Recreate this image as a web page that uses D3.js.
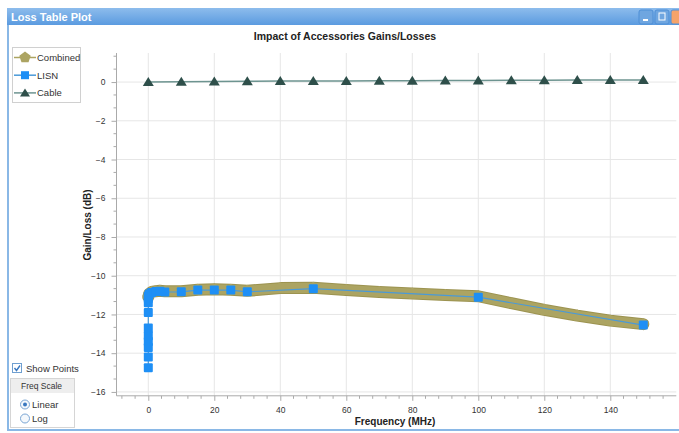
<!DOCTYPE html>
<html lang="en">
  <head>
    <meta charset="UTF-8" />
    <title>Loss Table Plot</title>
    <style>
      body { margin: 0; background: #fff; }
      svg { display: block; font-family: "Liberation Sans", Arial, sans-serif; }
    </style>
  </head>
  <body>
    <svg width="679" height="433"></svg>
    <script src="https://cdnjs.cloudflare.com/ajax/libs/d3/7.8.5/d3.min.js"></script>
    <script>
      // values
      var lisnFreq = [0, 0, 0, 0, 0, 0, 0, 0, 0, 0, 0.3, 1, 2.3, 3.5, 5, 10, 15, 20, 25, 30, 50, 100, 150];
      var lisnGain = [-14.75, -14.2, -13.7, -13.4, -13.1, -12.7, -11.9, -11.4, -11.17, -11.05, -10.95, -10.86, -10.82, -10.8, -10.84, -10.83, -10.74, -10.74, -10.74, -10.83, -10.67, -11.11, -12.55];

      var cableFreq = [0, 10, 20, 30, 40, 50, 60, 70, 80, 90, 100, 110, 120, 130, 140, 150];
      var cableGain = [0, 0.02, 0.03, 0.04, 0.05, 0.06, 0.06, 0.07, 0.07, 0.08, 0.08, 0.09, 0.09, 0.1, 0.1, 0.1];

      var combFreq = [0, 0.3, 1, 2.3, 3.5, 5, 10, 15, 20, 25, 30, 40, 50, 60, 70, 80, 90, 100, 110, 120, 130, 140, 150];
      var combGain = [-11.1, -10.93, -10.84, -10.8, -10.78, -10.8, -10.8, -10.72, -10.7, -10.72, -10.78, -10.64, -10.62, -10.74, -10.84, -10.92, -11.0, -11.06, -11.42, -11.76, -12.06, -12.32, -12.5];

      var xTicks = [0, 20, 40, 60, 80, 100, 120, 140];
      var yTicks = [0, -2, -4, -6, -8, -10, -12, -14, -16];

      var svg = d3.select("svg");

      // window chrome
      var grad = svg.append("defs").append("linearGradient")
        .attr("id", "bar").attr("x1", 0).attr("y1", 0).attr("x2", 0).attr("y2", 1);
      grad.append("stop").attr("offset", "0%").attr("stop-color", "#8dbcec");
      grad.append("stop").attr("offset", "100%").attr("stop-color", "#5b9be0");

      svg.append("rect").attr("x", 7).attr("y", 8).attr("width", 672).attr("height", 17).attr("fill", "url(#bar)");
      svg.append("text").attr("x", 11).attr("y", 20.5).attr("fill", "#fff")
        .attr("font-size", 11).attr("font-weight", "bold").text("Loss Table Plot");
      svg.append("rect").attr("x", 7).attr("y", 25).attr("width", 2).attr("height", 406).attr("fill", "#8ab8e6");
      svg.append("rect").attr("x", 7).attr("y", 429).attr("width", 672).attr("height", 2).attr("fill", "#8ab8e6");

      [[639, "#6fa6e0"], [655, "#6fa6e0"], [671, "#f4a36a"]].forEach(function (b) {
        svg.append("rect").attr("x", b[0]).attr("y", 10).attr("width", 14).attr("height", 14)
          .attr("rx", 2).attr("fill", b[1]).attr("stroke", "#4f8fd6");
      });
      svg.append("rect").attr("x", 643).attr("y", 19).attr("width", 5).attr("height", 2).attr("fill", "#fff");
      svg.append("rect").attr("x", 659).attr("y", 13).attr("width", 6).attr("height", 7).attr("fill", "none").attr("stroke", "#fff");

      // chart
      var x = d3.scaleLinear().domain([-10, 160]).range([115.3, 676.3]);
      var y = d3.scaleLinear().domain([1.5, -16.2]).range([53, 395.8]);
      var plotTop = y(1.5), plotBottom = y(-16.2), plotLeft = 116.5, plotRight = x(160);

      svg.append("text").attr("x", 345).attr("y", 40).attr("text-anchor", "middle")
        .attr("font-size", 10.5).attr("font-weight", "bold").attr("fill", "#222")
        .text("Impact of Accessories Gains/Losses");

      var grid = svg.append("g").attr("stroke", "#e6e6e6");
      grid.append("g").selectAll("line").data(xTicks).join("line")
        .attr("x1", function (d) { return x(d); }).attr("x2", function (d) { return x(d); })
        .attr("y1", plotTop).attr("y2", plotBottom);
      grid.append("g").selectAll("line").data(yTicks).join("line")
        .attr("x1", plotLeft).attr("x2", plotRight)
        .attr("y1", function (d) { return y(d); }).attr("y2", function (d) { return y(d); });

      var xMinor = d3.range(-8, 160, 4).filter(function (d) { return d % 20 !== 0; });
      var yMinor = [];
      for (var v = -16; v < 1.5; v += 2 / 3) {
        if (Math.abs(Math.round(v) - v) > 0.01 || Math.round(v) % 2 !== 0) yMinor.push(v);
      }

      var xAxis = svg.append("g").attr("transform", "translate(0," + plotBottom + ")")
        .call(d3.axisBottom(x).tickValues(xTicks).tickSize(5).tickPadding(6));
      xAxis.append("g").selectAll("line").data(xMinor).join("line")
        .attr("x1", function (d) { return x(d); }).attr("x2", function (d) { return x(d); })
        .attr("y1", 0).attr("y2", 3).attr("stroke", "#aaa");

      var yAxis = svg.append("g").attr("transform", "translate(" + plotLeft + ",0)")
        .call(d3.axisLeft(y).tickValues(yTicks).tickSize(5).tickPadding(6));
      yAxis.append("g").selectAll("line").data(yMinor).join("line")
        .attr("y1", function (d) { return y(d); }).attr("y2", function (d) { return y(d); })
        .attr("x1", 0).attr("x2", -3).attr("stroke", "#aaa");

      [xAxis, yAxis].forEach(function (a) {
        a.select(".domain").attr("stroke", "#aaa");
        a.selectAll(".tick line").attr("stroke", "#aaa");
        a.selectAll("text").attr("font-size", 8.5).attr("fill", "#333")
          .attr("font-family", "'Liberation Sans', Arial, sans-serif");
      });
      xAxis.select(".domain").attr("d", "M" + plotLeft + ",0H" + plotRight);
      yAxis.select(".domain").attr("d", "M0," + plotTop + "V" + plotBottom);

      svg.append("text").attr("x", 395).attr("y", 425).attr("text-anchor", "middle")
        .attr("font-size", 10).attr("font-weight", "bold").attr("fill", "#222").text("Frequency (MHz)");
      svg.append("text").attr("transform", "translate(91,225) rotate(-90)").attr("text-anchor", "middle")
        .attr("font-size", 10).attr("font-weight", "bold").attr("fill", "#222").text("Gain/Loss (dB)");

      var line = d3.line()
        .x(function (d) { return x(d[0]); })
        .y(function (d) { return y(d[1]); });

      var comb = d3.zip(combFreq, combGain);
      var lisn = d3.zip(lisnFreq, lisnGain);
      var cable = d3.zip(cableFreq, cableGain);

      function pentagon(r) {
        var p = [];
        for (var i = 0; i < 5; i++) {
          var a = -Math.PI / 2 + i * 2 * Math.PI / 5;
          p.push([r * Math.cos(a), r * Math.sin(a)]);
        }
        return "M" + p.join("L") + "Z";
      }

      // combined: wide olive band
      svg.append("path").datum(comb).attr("d", line).attr("fill", "none")
        .attr("stroke", "#9c9350").attr("stroke-width", 12).attr("stroke-linejoin", "round").attr("stroke-linecap", "round");
      svg.append("path").datum(comb).attr("d", line).attr("fill", "none")
        .attr("stroke", "#aca462").attr("stroke-width", 10).attr("stroke-linejoin", "round").attr("stroke-linecap", "round");
      svg.append("g").selectAll("path").data(comb).join("path")
        .attr("d", pentagon(6))
        .attr("transform", function (d) { return "translate(" + x(d[0]) + "," + y(d[1]) + ")"; })
        .attr("fill", "#aca462");

      // LISN
      svg.append("path").datum(lisn).attr("d", line).attr("fill", "none")
        .attr("stroke", "#4a9ad8").attr("stroke-width", 1.2);
      svg.append("g").selectAll("rect").data(lisn).join("rect")
        .attr("x", function (d) { return x(d[0]) - 4.5; }).attr("y", function (d) { return y(d[1]) - 4.5; })
        .attr("width", 9).attr("height", 9).attr("rx", 1)
        .attr("fill", "#1e8ff5");

      // Cable
      svg.append("path").datum(cable).attr("d", line).attr("fill", "none")
        .attr("stroke", "#6d9490").attr("stroke-width", 1.5);
      svg.append("g").selectAll("path").data(cable).join("path")
        .attr("d", "M0,-5L5.5,4L-5.5,4Z")
        .attr("transform", function (d) { return "translate(" + x(d[0]) + "," + y(d[1]) + ")"; })
        .attr("fill", "#2e4f4a");

      // legend
      var lg = svg.append("g");
      lg.append("rect").attr("x", 12.5).attr("y", 47.5).attr("width", 68).attr("height", 55)
        .attr("fill", "#fff").attr("stroke", "#d0d0d0");
      var items = [
        { name: "Combined", color: "#aca462", line: "#aca462" },
        { name: "LISN", color: "#1e8ff5", line: "#4a9ad8" },
        { name: "Cable", color: "#2e4f4a", line: "#6d9490" }
      ];
      items.forEach(function (it, i) {
        var cy = 57.5 + i * 17.7;
        lg.append("line").attr("x1", 14).attr("x2", 36).attr("y1", cy).attr("y2", cy)
          .attr("stroke", it.line).attr("stroke-width", 1.5);
        var m = lg.append("path").attr("transform", "translate(25," + cy + ")").attr("fill", it.color);
        if (i === 0) m.attr("d", pentagon(6));
        else if (i === 1) m.attr("d", "M-4,-4H4V4H-4Z");
        else m.attr("d", "M0,-4.5L5,3.5L-5,3.5Z");
        lg.append("text").attr("x", 37).attr("y", cy + 3.5).attr("font-size", 9.5).attr("fill", "#333").text(it.name);
      });

      // controls
      svg.append("rect").attr("x", 12.5).attr("y", 363.5).attr("width", 9).attr("height", 9)
        .attr("fill", "#fff").attr("stroke", "#6f9fd0");
      svg.append("path").attr("d", "M14.5,368L16.5,370.5L20,365.5").attr("fill", "none")
        .attr("stroke", "#3a78c0").attr("stroke-width", 1.4);
      svg.append("text").attr("x", 26).attr("y", 371.5).attr("font-size", 9.5).attr("fill", "#333").text("Show Points");

      svg.append("rect").attr("x", 10.5).attr("y", 378.5).attr("width", 64).attr("height", 49)
        .attr("fill", "#fff").attr("stroke", "#d5d5d5");
      svg.append("rect").attr("x", 11).attr("y", 379).attr("width", 63).attr("height", 14).attr("fill", "#eeeeee");
      svg.append("text").attr("x", 21).attr("y", 389).attr("font-size", 8.5).attr("fill", "#333").text("Freq Scale");
      [["Linear", 404.5, true], ["Log", 418.5, false]].forEach(function (r) {
        svg.append("circle").attr("cx", 25).attr("cy", r[1]).attr("r", 4.5)
          .attr("fill", "#f4f8fc").attr("stroke", "#7aa6d4");
        if (r[2]) svg.append("circle").attr("cx", 25).attr("cy", r[1]).attr("r", 2).attr("fill", "#3a78c0");
        svg.append("text").attr("x", 32).attr("y", r[1] + 3.5).attr("font-size", 9.5).attr("fill", "#333").text(r[0]);
      });
    </script>
  </body>
</html>
